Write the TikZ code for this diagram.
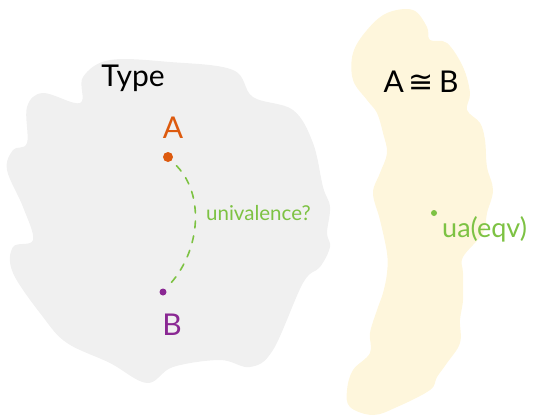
\documentclass[tikz,border=0pt]{standalone}
\usepackage{fontspec}
\setmainfont{Lato}
\newfontfamily\symfont{DejaVu Sans}
\definecolor{greyblob}{HTML}{F0F0F0}
\definecolor{creamblob}{HTML}{FEF6DC}
\definecolor{orangeA}{HTML}{DD5A0E}
\definecolor{purpleB}{HTML}{8A2893}
\definecolor{greenL}{HTML}{7DC243}
\tikzset{
  lbl/.style={inner sep=0pt, font=\fontsize{#1}{#1}\selectfont},
  dotmark/.style={circle, fill, inner sep=0pt, minimum size=#1},
}
\begin{document}
\begin{tikzpicture}[x=1pt,y=-1pt]
\useasboundingbox (0,0) rectangle (533,416);
% grey blob
\fill[greyblob] plot[smooth cycle, tension=0.6] coordinates {
 (110,60) (170,62) (233,70) (253,97) (293,110) (313,143) (323,187) (330,207)
 (327,233) (330,247) (320,267) (303,283) (273,350) (250,367) (220,360)
 (173,367) (147,383) (110,363) (67,343) (43,317) (13,273) (13,247) (33,240)
 (23,207) (7,170) (13,150) (27,143) (27,107) (43,93) (80,103) (83,77)};
% cream blob
\fill[creamblob] plot[smooth cycle, tension=0.6] coordinates {
 (387,13) (413,10) (427,27) (430,40) (447,43) (463,67) (470,93) (467,110)
 (480,123) (485,140) (487,167) (493,190) (487,213) (483,233) (463,257)
 (463,273) (463,300) (460,320) (460,343) (447,363) (437,377) (430,390)
 (397,407) (373,415) (350,407) (347,390) (353,370) (370,353) (370,333)
 (377,310) (383,293) (387,273) (387,253) (380,220) (373,193) (380,173)
 (387,153) (383,133) (377,113) (367,100) (353,80) (353,53) (367,30)};
% texts
\node[lbl=30] (type) at (133,78) {Type};
\node[lbl=30, text=orangeA] (A) at (173,128) {A};
\node[lbl=30, text=purpleB] (B) at (172,325) {B};
\node[lbl=20.5, text=greenL, anchor=west] (univ) at (206,213) {univalence?};
\node[lbl=30] (equiv) at (421,82) {A\,{\symfont ≅}\,B};
\node[lbl=27, text=greenL, anchor=west] (ua) at (442,229) {ua(eqv)};
% dots
\node[dotmark=10pt, fill=orangeA] (dA) at (168,157) {};
\node[dotmark=7pt, fill=purpleB] (dB) at (163,292) {};
\node[dotmark=6pt, fill=greenL] (dU) at (434,213) {};
% dashed path
\draw[greenL, line width=1.6pt, dash pattern=on 7pt off 8pt, line cap=round,
      shorten <=7pt, shorten >=8pt]
  (dA) .. controls (205,195) and (200,250) .. (dB);
\end{tikzpicture}
\end{document}
